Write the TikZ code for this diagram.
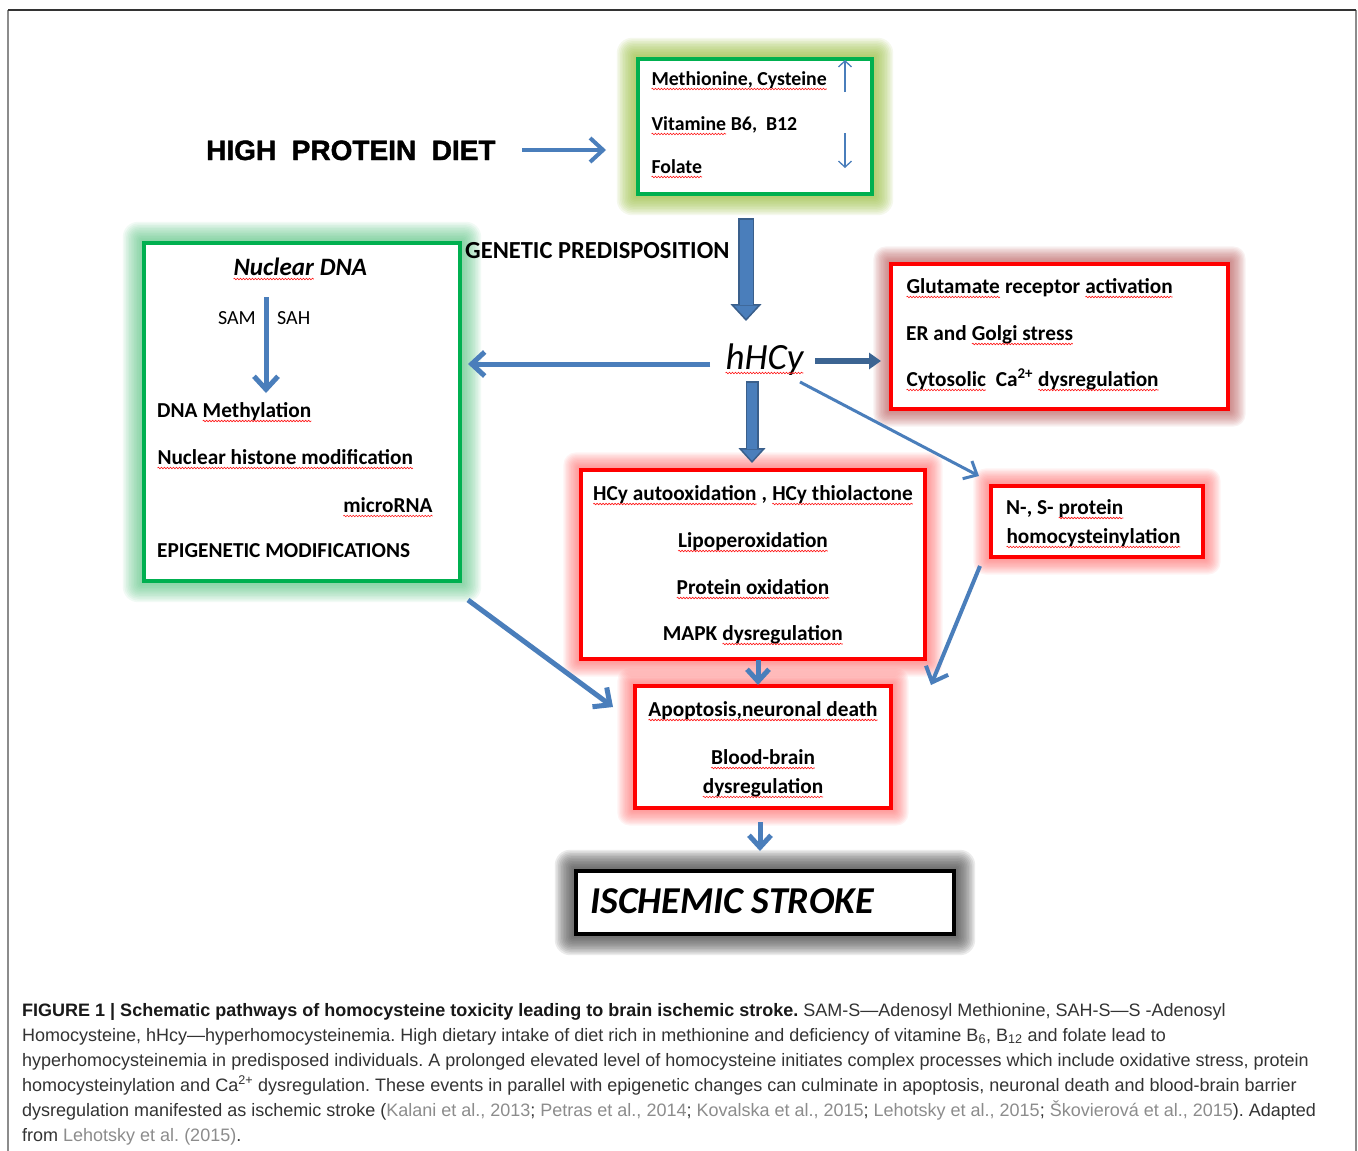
\documentclass[tikz,border=0pt]{standalone}
\usepackage{fontspec}
\setmainfont{Carlito}
\newfontfamily\capfont{Liberation Sans}
\newfontfamily\heavyfont[FakeBold=1.5]{Liberation Sans Bold}
\usetikzlibrary{arrows.meta,backgrounds,calc,decorations.pathmorphing}
\definecolor{mblue}{HTML}{4A7EBB}
\definecolor{mdark}{HTML}{3A5F8B}
\definecolor{bgreen}{HTML}{00B050}
\definecolor{bred}{HTML}{FF0000}
\definecolor{gOlive}{HTML}{9DC245}
\definecolor{gGreen}{HTML}{4CC27A}
\definecolor{gPink}{HTML}{FF6060}
\definecolor{gRose}{HTML}{B85050}
\definecolor{gGray}{HTML}{4A4A4A}
\definecolor{capc}{HTML}{333333}
\definecolor{refc}{HTML}{8C8C8C}
\newcommand\wv[1]{\tikz[baseline=(wvn.base)]{\node[inner sep=0pt,outer sep=0pt,anchor=base west] (wvn) at (0,0) {#1};
  \draw[red!90!white, line width=0.6pt, decorate, decoration={snake,amplitude=0.8pt,segment length=3pt}]
    ([yshift=-4pt]wvn.base west) -- ([yshift=-4pt]wvn.base east);}}
\newcommand\rf[1]{\textcolor{refc}{#1}}
\newcommand\glow[4]{%
  \foreach \i in {1,...,12}{%
    \fill[#2, opacity=#3, rounded corners=\i*#4*0.8pt]
      ([xshift=-\i*#4*1pt,yshift=-\i*#4*1pt]#1.south west) rectangle ([xshift=\i*#4*1pt,yshift=\i*#4*1pt]#1.north east);
  }}
\tikzset{
  box/.style={draw, line width=4pt, fill=white, inner sep=0pt},
  gbox/.style={box, draw=bgreen},
  rbox/.style={box, draw=bred},
  tx/.style={font=\bfseries\fontsize{21.3}{25}\selectfont, inner sep=0pt, anchor=base west},
  txt/.style={tx, font=\bfseries\fontsize{19.8}{24}\selectfont},
  txc/.style={tx, anchor=base},
  barb/.style={mblue, line width=4.5pt, -{Straight Barb[length=13pt,width=24pt]}},
  thinarr/.style={mblue, line width=1.3pt, -{Straight Barb[length=6pt,width=13pt]}},
  capt/.style={font=\capfont\frenchspacing\fontsize{18}{21}\selectfont, text=capc, anchor=base west, inner sep=0pt},
}
\begin{document}
\begin{tikzpicture}[x=1pt,y=-1pt]
\useasboundingbox (0,0) rectangle (1358,1151);
\begin{pgfonlayer}{background}
  \fill[white] (0,0) rectangle (1358,1151);
\end{pgfonlayer}
% outer frame
\draw[black!45, line width=1.5pt] (8,1151) -- (8,10);
\draw[black!45, line width=1.5pt] (1356,10) -- (1356,1151);
\draw[black!80, line width=1.5pt] (8,10) -- (1356,10);

% boxes
\node[gbox, minimum width=234pt, minimum height=135pt] (top) at (755,126.5) {};
\node[gbox, minimum width=316pt, minimum height=338pt] (left) at (302,412) {};
\node[rbox, minimum width=337pt, minimum height=145pt] (r1) at (1059.5,336.5) {};
\node[rbox, minimum width=344pt, minimum height=189pt] (r2) at (753,564.5) {};
\node[rbox, minimum width=212pt, minimum height=71pt] (r3) at (1097,521.5) {};
\node[rbox, minimum width=256pt, minimum height=122pt] (r4) at (763,747) {};
\node[box, draw=black, minimum width=378pt, minimum height=63pt] (isc) at (765,902.5) {};

% glows
\begin{pgfonlayer}{background}
  \glow{top}{gOlive}{0.10}{1.6}
  \glow{left}{gGreen}{0.075}{1.6}
  \glow{r1}{gRose}{0.075}{1.3}
  \glow{r2}{gPink}{0.07}{1.3}
  \glow{r3}{gPink}{0.07}{1.3}
  \glow{r4}{gPink}{0.07}{1.3}
  \glow{isc}{gGray}{0.11}{1.6}
\end{pgfonlayer}

% top texts
\node[font=\heavyfont\fontsize{28}{32}\selectfont, inner sep=0pt, anchor=base west] (hpd) at (206,160) {HIGH\ \ PROTEIN\ \ DIET};
\node[txt] (m1) at (651,85) {\wv{Methionine, Cysteine}};
\node[txt] (m2) at (651,130) {\wv{Vitamine} B6,\ \ B12};
\node[txt] (m3) at (651,173) {\wv{Folate}};
\node[font=\bfseries\fontsize{24.5}{28}\selectfont, inner sep=0pt, anchor=base west] (gen) at (465,258) {GENETIC PREDISPOSITION};
\node[font=\itshape\fontsize{37}{40}\selectfont, inner sep=0pt, anchor=base west] (hhcy) at (725,369) {\wv{hHCy}};

% left box texts
\node[font=\bfseries\itshape\fontsize{25}{28}\selectfont, inner sep=0pt, anchor=base west] (ndna) at (233,275) {\wv{Nuclear} DNA};
\node[font=\fontsize{20}{24}\selectfont, inner sep=0pt, anchor=base east] (sam) at (256,324) {SAM};
\node[font=\fontsize{20}{24}\selectfont, inner sep=0pt, anchor=base west] (sah) at (277,324) {SAH};
\node[tx] (l1) at (157,417) {DNA \wv{Methylation}};
\node[tx] (l2) at (157,464) {\wv{Nuclear histone modification}};
\node[tx, anchor=base east] (l3) at (433,512) {\wv{microRNA}};
\node[tx] (l4) at (157,557) {EPIGENETIC MODIFICATIONS};

% right box texts
\node[tx] (g1) at (906,293) {\wv{Glutamate} receptor \wv{activation}};
\node[tx] (g2) at (906,340) {ER and \wv{Golgi stress}};
\node[tx] (g3) at (906,386) {\wv{Cytosolic}\ \ Ca\textsuperscript{2+} \wv{dysregulation}};

% center box texts
\node[txc] (c1) at (753,500) {\wv{HCy autooxidation} , \wv{HCy thiolactone}};
\node[txc] (c2) at (753,547) {\wv{Lipoperoxidation}};
\node[txc] (c3) at (753,594) {\wv{Protein oxidation}};
\node[txc] (c4) at (753,640) {MAPK \wv{dysregulation}};

% N-, S- box
\node[tx] (n1) at (1006,514) {N-, S- \wv{protein}};
\node[tx] (n2) at (1006,543) {\wv{homocysteinylation}};

% apoptosis box
\node[txc] (p1) at (763,716) {\wv{Apoptosis,neuronal death}};
\node[txc] (p2) at (763,764) {\wv{Blood-brain}};
\node[txc] (p3) at (763,793) {\wv{dysregulation}};

% stroke
\node[font=\bfseries\itshape\fontsize{38}{40}\selectfont, inner sep=0pt, anchor=base west] (istr) at (590,913) {ISCHEMIC STROKE};

% arrow end points
\coordinate (a0s) at (522,150);  \coordinate (a0e) at (606,150);
\coordinate (a1s) at (746,218);  \coordinate (a1e) at (746,321);
\coordinate (upS) at (845,92);   \coordinate (upE) at (845,60);
\coordinate (dnS) at (845,133);  \coordinate (dnE) at (845,168);
\coordinate (smS) at (266,297);  \coordinate (smE) at (266,393);
\coordinate (lfS) at (710,364);  \coordinate (lfE) at (468,364);
\coordinate (rtS) at (815,361);  \coordinate (rtE) at (881,361);
\coordinate (dwS) at (752,381);  \coordinate (dwE) at (752,463);
\coordinate (dgS) at (800,382);  \coordinate (dgE) at (979,476);
\coordinate (laS) at (468,600);  \coordinate (laE) at (613,707);
\coordinate (caS) at (758,660);  \coordinate (caE) at (758,685);
\coordinate (naS) at (980,566);  \coordinate (naE) at (931,685);
\coordinate (isS) at (760,822);  \coordinate (isE) at (760,851);

% arrows
\draw[barb, line width=4pt] (a0s) -- (a0e);
\draw[thinarr] (upS) -- (upE);
\draw[thinarr] (dnS) -- (dnE);
% block arrow top -> hHCy
\draw[mdark, line width=16pt, -{Triangle[length=17pt,width=31pt,fill=mblue,line width=1.5pt]}] (a1s) -- (a1e);
\draw[mblue, line width=13pt, shorten <=1.5pt, shorten >=16pt] (a1s) -- (a1e);
% block arrow hHCy -> center
\draw[mdark, line width=13pt, -{Triangle[length=15pt,width=27pt,fill=mblue,line width=1.5pt]}] (dwS) -- (dwE);
\draw[mblue, line width=10pt, shorten <=1.5pt, shorten >=14pt] (dwS) -- (dwE);
\draw[barb, line width=5pt] (smS) -- (smE);
\draw[barb, line width=5pt] (lfS) -- (lfE);
\draw[mdark!85!mblue, line width=6pt, -{Triangle[length=12pt,width=16pt]}] (rtS) -- (rtE);
\draw[barb, line width=3pt, -{Straight Barb[length=11pt,width=20pt]}] (dgS) -- (dgE);
\draw[barb, line width=5pt] (laS) -- (laE);
\draw[barb, line width=5pt, -{Straight Barb[length=12pt,width=22pt]}] (caS) -- (caE);
\draw[barb, line width=4pt] (naS) -- (naE);
\draw[barb, line width=5pt, -{Straight Barb[length=12pt,width=22pt]}] (isS) -- (isE);

% caption
\node[capt] (cap1) at (22,1016) {\textcolor{black!90}{\bfseries FIGURE 1 | Schematic pathways of homocysteine toxicity leading to brain ischemic stroke.} SAM-S—Adenosyl Methionine, SAH-S—S -Adenosyl};
\node[capt] (cap2) at (22,1041) {Homocysteine, hHcy—hyperhomocysteinemia. High dietary intake of diet rich in methionine and deficiency of vitamine B\textsubscript{6}, B\textsubscript{12} and folate lead to};
\node[capt] (cap3) at (22,1066) {hyperhomocysteinemia in predisposed individuals. A prolonged elevated level of homocysteine initiates complex processes which include oxidative stress, protein};
\node[capt] (cap4) at (22,1091) {homocysteinylation and Ca\textsuperscript{2+} dysregulation. These events in parallel with epigenetic changes can culminate in apoptosis, neuronal death and blood-brain barrier};
\node[capt] (cap5) at (22,1116) {dysregulation manifested as ischemic stroke (\rf{Kalani et al., 2013}; \rf{Petras et al., 2014}; \rf{Kovalska et al., 2015}; \rf{Lehotsky et al., 2015}; \rf{Škovierová et al., 2015}). Adapted};
\node[capt] (cap6) at (22,1141) {from \rf{Lehotsky et al. (2015)}.};
\end{tikzpicture}
\end{document}
